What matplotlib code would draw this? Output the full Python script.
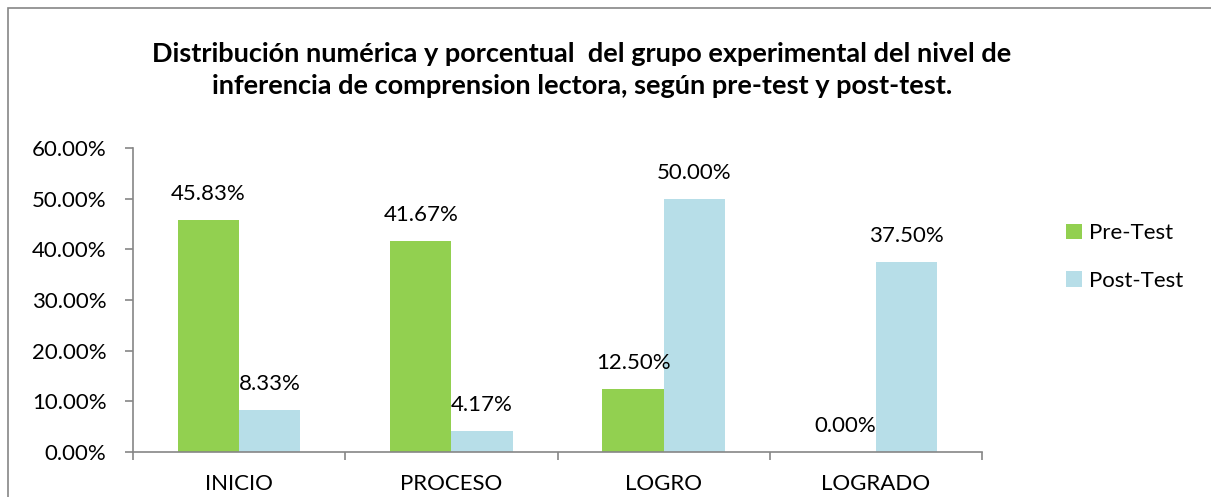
import numpy as np
import matplotlib.pyplot as plt
from matplotlib.patches import Rectangle

categories = ["INICIO", "PROCESO", "LOGRO", "LOGRADO"]
pre_test = [45.83, 41.67, 12.50, 0.00]
post_test = [8.33, 4.17, 50.00, 37.50]
series_names = ["Pre-Test", "Post-Test"]
colors = ["#92D050", "#B7DEE8"]
title = ("Distribución numérica y porcentual  del grupo experimental del nivel de\n"
         "inferencia de comprension lectora, según pre-test y post-test.")

plt.rcParams['font.family'] = ['Lato', 'DejaVu Sans']
axis_gray = "#868686"

fig = plt.figure(figsize=(12.11, 4.97), dpi=100)
ax = fig.add_axes([133 / 1211, 45 / 497, 849 / 1211, 304 / 497])

x = np.arange(len(categories))
w = 0.288
bars = []
for i, (vals, name, c) in enumerate(zip([pre_test, post_test], series_names, colors)):
    offs = (i - 0.5) * w
    b = ax.bar(x + offs, vals, w, color=c, label=name)
    bars.append(b)
    for xi, v in zip(x, vals):
        ax.annotate(f"{v:.2f}%", (xi + offs, v), xytext=(0, 26),
                    textcoords="offset pixels", ha="center", va="center",
                    fontsize=16, color="black")

ax.set_xlim(-0.5, len(categories) - 0.5)
ax.set_ylim(0, 60)
ax.set_yticks(np.arange(0, 61, 10))
ax.set_yticklabels([f"{t:.2f}%" for t in np.arange(0, 61, 10)], fontsize=16)
ax.set_xticks(np.arange(-0.5, len(categories)), labels=[""] * (len(categories) + 1))
ax.set_xticks(x, labels=categories, minor=True)
ax.tick_params(axis="x", which="major", length=6, width=1.2, color=axis_gray, direction="out")
ax.tick_params(axis="x", which="minor", length=0, pad=16, labelsize=16)
ax.tick_params(axis="y", length=6, width=1.2, color=axis_gray, pad=13)
for s in ["top", "right"]:
    ax.spines[s].set_visible(False)
for s in ["left", "bottom"]:
    ax.spines[s].set_color(axis_gray)
    ax.spines[s].set_linewidth(1.2)

fig.text(582 / 1211, 1 - 70 / 497, title, ha="center", va="center",
         fontsize=19.5, fontweight="bold", linespacing=1.45)

fig.legend(handles=bars, labels=series_names, loc="center left",
           bbox_to_anchor=(1046 / 1211, 1 - 257 / 497), frameon=False,
           fontsize=16, handlelength=0.7, handleheight=0.7, labelspacing=1.25,
           handletextpad=0.35)

fig.patches.append(Rectangle((8 / 1211, -0.2), 1.2, (497 - 8) / 497 + 0.2,
                             transform=fig.transFigure, fill=False,
                             edgecolor=axis_gray, linewidth=1.2))

fig.savefig("out.png", dpi=100)
